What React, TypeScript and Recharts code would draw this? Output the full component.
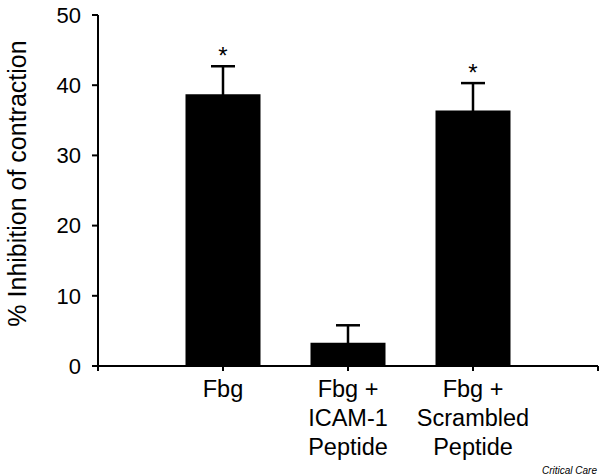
import React from "react";
import { BarChart, Bar, XAxis, YAxis, ErrorBar, LabelList } from "recharts";

const categories = ["Fbg", "Fbg + ICAM-1 Peptide", "Fbg + Scrambled Peptide"];
const labelLines = [["Fbg"], ["Fbg +", "ICAM-1", "Peptide"], ["Fbg +", "Scrambled", "Peptide"]];
const positions = [1, 2, 3];
const values = [38.7, 3.3, 36.4];
const errors = [4.0, 2.5, 3.9];
const significant = [true, false, true];
const xTicks = [0, 1, 2, 3, 4];
const yTicks = [0, 10, 20, 30, 40, 50];

const data = categories.map((c, i) => ({
  name: c,
  pos: positions[i],
  value: values[i],
  err: errors[i],
  sig: significant[i],
}));

const FONT = "'Liberation Sans', Arial, Helvetica, sans-serif";

const XTick = (props: any) => {
  const { x, y, payload } = props;
  const idx = positions.indexOf(payload.value);
  if (idx < 0) return null;
  const lines = labelLines[idx];
  return (
    <text x={x} y={y} textAnchor="middle" fill="#000" fontSize={23.5} fontFamily={FONT}>
      {lines.map((l, i) => (
        <tspan key={i} x={x} dy={i === 0 ? 24 : 29}>
          {l}
        </tspan>
      ))}
    </text>
  );
};

const Star = (props: any) => {
  const { x, y, width, height, value, index } = props;
  if (!significant[index]) return null;
  const ppu = height / value;
  const capY = y - errors[index] * ppu;
  return (
    <text x={x + width / 2} y={capY - 2} textAnchor="middle" fill="#000" fontSize={24} fontFamily={FONT}>
      *
    </text>
  );
};

const YLabel = (props: any) => {
  const vb = props.viewBox || { x: 0, y: 15, width: 98, height: 351 };
  const cy = vb.y + vb.height / 2 - 7;
  return (
    <text
      transform={`translate(26, ${cy}) rotate(-90)`}
      textAnchor="middle"
      fill="#000"
      fontSize={25}
      fontFamily={FONT}
    >
      % Inhibition of contraction
    </text>
  );
};

export default function App() {
  return (
    <div style={{ position: "absolute", left: 0, top: 0, width: 600, height: 476, background: "#fff" }}>
      <BarChart width={600} height={476} data={data} margin={{ top: 15, right: 2, bottom: 10, left: 0 }}>
        <XAxis
          type="number"
          dataKey="pos"
          domain={[0, 4]}
          ticks={xTicks}
          interval={0}
          height={100}
          tickSize={5}
          tick={<XTick />}
          axisLine={{ stroke: "#000", strokeWidth: 2 }}
          tickLine={{ stroke: "#000", strokeWidth: 2 }}
        />
        <YAxis
          type="number"
          domain={[0, 50]}
          ticks={yTicks}
          interval={0}
          width={98}
          tickSize={6}
          tickMargin={11}
          tick={{ fill: "#000", fontSize: 22, fontFamily: FONT }}
          axisLine={{ stroke: "#000", strokeWidth: 2 }}
          tickLine={{ stroke: "#000", strokeWidth: 2 }}
          label={{ content: <YLabel /> }}
        />
        <Bar dataKey="value" fill="#000" barSize={75} isAnimationActive={false}>
          <ErrorBar dataKey="err" width={12} strokeWidth={2.5} stroke="#000" direction="y" />
          <LabelList dataKey="value" content={<Star />} />
        </Bar>
      </BarChart>
      <svg
        width={600}
        height={476}
        style={{ position: "absolute", left: 0, top: 0, pointerEvents: "none" }}
      >
        <text x={597} y={474} textAnchor="end" fill="#000" fontSize={10} fontStyle="italic" fontFamily={FONT}>
          Critical Care
        </text>
      </svg>
    </div>
  );
}
